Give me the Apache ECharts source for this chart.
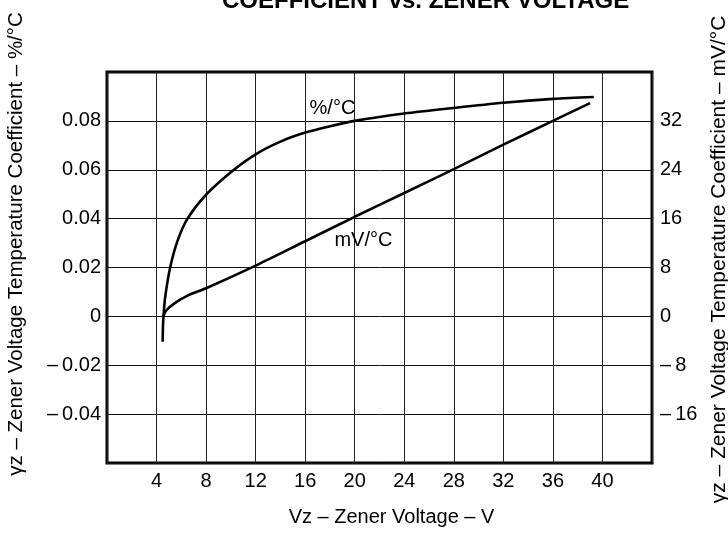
<!DOCTYPE html>
<html>
<head>
<meta charset="utf-8">
<title>Zener temperature coefficient</title>
<script src="https://cdn.jsdelivr.net/npm/echarts@6/dist/echarts.min.js"></script>
<style>
  html, body { margin: 0; padding: 0; background: #fff; }
  #chart { width: 728px; height: 535px; }
</style>
</head>
<body>
<div id="chart"></div>
<script>
// %/°C curve (left axis)
let vzPct = [4.49, 4.52, 4.56, 4.7, 5.1, 5.7, 6.5, 8.0, 10.0, 12.0, 14.0, 16.0, 18.0, 20.0, 24.0, 28.0, 32.0, 36.0, 39.3]
let pctValues = [-0.0104, -0.004, 0, 0.008, 0.02, 0.031, 0.040, 0.0498, 0.0590, 0.0663, 0.0715, 0.0752, 0.0778, 0.0800, 0.0830, 0.0853, 0.0874, 0.0890, 0.0898]
// mV/°C curve (right axis)
let vzMv = [4.55, 4.8, 5.5, 6.5, 8.0, 12.0, 16.0, 20.0, 24.0, 28.0, 32.0, 36.0, 39.0]
let mvValues = [0, 1.0, 2.2, 3.4, 4.6, 8.3, 12.3, 16.3, 20.2, 24.1, 28.1, 32.0, 34.9]
// axis ranges / ticks
let xRange = [0, 44, 4]
let pctRange = [-0.06, 0.1, 0.02]
let mvRange = [-24, 40, 8]

let font = 'Liberation Sans, Arial, Helvetica, sans-serif'
let dash = '\u2013\u2009'

function pairs (xs, ys) {
  let out = []
  for (let i = 0; i < xs.length; i++) {
    out.push([xs[i], ys[i]])
  }
  return out
}

let chart = echarts.init(document.getElementById('chart'))
let option = {
  animation: false,
  textStyle: { fontFamily: font, color: '#000' },
  title: {
    text: 'COEFFICIENT vs. ZENER VOLTAGE',
    left: 222,
    top: -11,
    padding: 0,
    textStyle: { fontFamily: font, fontSize: 24, fontWeight: 'bold', color: '#000' }
  },
  grid: {
    left: 107,
    right: 76,
    top: 72,
    bottom: 72,
    outerBoundsMode: 'none',
    containLabel: false,
    show: true,
    borderColor: '#000',
    borderWidth: 3
  },
  xAxis: {
    type: 'value',
    min: xRange[0],
    max: xRange[1],
    interval: xRange[2],
    name: 'Vz \u2013 Zener Voltage \u2013 V',
    nameLocation: 'middle',
    nameGap: 44,
    nameTextStyle: { fontSize: 20, color: '#000', padding: [0, 0, 0, 24] },
    axisLine: { show: false },
    axisTick: { show: false },
    axisLabel: {
      fontSize: 20,
      color: '#000',
      margin: 8,
      formatter: function (v) {
        return (v === xRange[0] || v === xRange[1]) ? '' : String(v)
      }
    },
    splitLine: { lineStyle: { color: '#222', width: 1 } }
  },
  yAxis: [
    {
      type: 'value',
      min: pctRange[0],
      max: pctRange[1],
      interval: pctRange[2],
      name: '\u03b3z \u2013 Zener Voltage Temperature Coefficient \u2013 %/\u00b0C',
      nameLocation: 'middle',
      nameGap: 80,
      nameTextStyle: { fontSize: 20.5, color: '#000', padding: [0, 0, 0, 47] },
      axisLine: { show: false },
      axisTick: { show: false },
      axisLabel: {
        fontSize: 20,
        color: '#000',
        margin: 6,
        formatter: function (v) {
          let k = Math.round(v * 100)
          if (k === -6 || k === 10) return ''
          if (k === 0) return '0'
          let s = Math.abs(v).toFixed(2)
          return k < 0 ? dash + s : s
        }
      },
      splitLine: { lineStyle: { color: '#111', width: 1 } }
    },
    {
      type: 'value',
      min: mvRange[0],
      max: mvRange[1],
      interval: mvRange[2],
      name: '\u03b3z \u2013 Zener Voltage Temperature Coefficient \u2013 mV/\u00b0C',
      nameLocation: 'middle',
      nameGap: 41,
      nameTextStyle: { fontSize: 21, color: '#000', padding: [0, 0, 0, 16] },
      axisLine: { show: false },
      axisTick: { show: false },
      axisLabel: {
        fontSize: 20,
        color: '#000',
        margin: 8,
        formatter: function (v) {
          let k = Math.round(v)
          if (k === mvRange[0] || k === mvRange[1]) return ''
          return k < 0 ? dash + Math.abs(k) : String(k)
        }
      },
      splitLine: { show: false }
    }
  ],
  series: [
    {
      name: '%/°C',
      type: 'line',
      yAxisIndex: 0,
      data: pairs(vzPct, pctValues),
      smooth: 0.3,
      showSymbol: false,
      lineStyle: { color: '#000', width: 2.6 },
      markPoint: {
        symbol: 'circle',
        symbolSize: 0,
        label: { show: true, position: 'inside', fontSize: 20, color: '#000', formatter: '{b}' },
        data: [{ name: '%/\u00b0C', coord: [18.2, 0.0852] }]
      }
    },
    {
      name: 'mV/°C',
      type: 'line',
      yAxisIndex: 1,
      data: pairs(vzMv, mvValues),
      smooth: 0.3,
      showSymbol: false,
      lineStyle: { color: '#000', width: 2.6 },
      markPoint: {
        symbol: 'circle',
        symbolSize: 0,
        label: { show: true, position: 'inside', fontSize: 20, color: '#000', formatter: '{b}' },
        data: [{ name: 'mV/\u00b0C', coord: [20.7, 12.4] }]
      }
    }
  ]
}
chart.setOption(option)
</script>
</body>
</html>
